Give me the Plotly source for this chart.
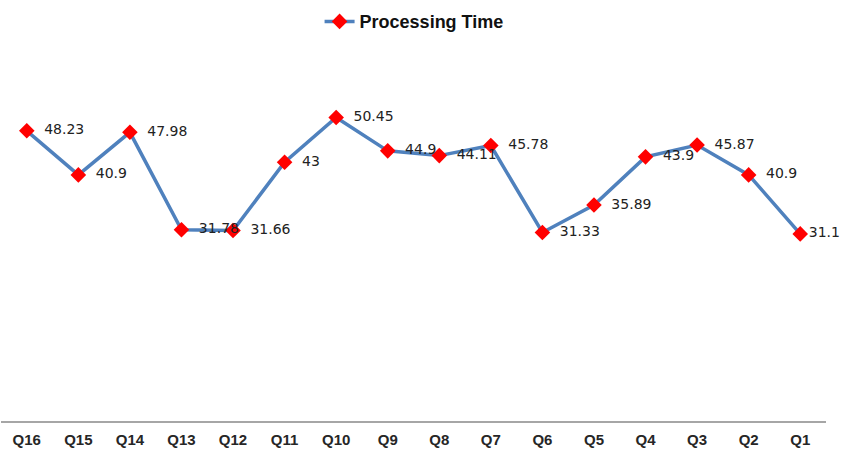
import plotly.graph_objects as go

quarters = ["Q16", "Q15", "Q14", "Q13", "Q12", "Q11", "Q10", "Q9",
            "Q8", "Q7", "Q6", "Q5", "Q4", "Q3", "Q2", "Q1"]
processing_time = [48.23, 40.9, 47.98, 31.78, 31.66, 43, 50.45, 44.9,
                   44.11, 45.78, 31.33, 35.89, 43.9, 45.87, 40.9, 31.1]

# Value labels sit a little right of each marker; the last one hugs the edge
labels = [f"  {v:g}" for v in processing_time]
labels[-1] = f"{processing_time[-1]:g}"

fig = go.Figure()
fig.add_trace(go.Scatter(
    x=quarters,
    y=processing_time,
    mode="lines+markers+text",
    name="<b>Processing Time</b>",
    line=dict(color="#4F81BD", width=3.5),
    marker=dict(symbol="diamond", size=12, color="#FF0000",
                line=dict(color="#FF0000", width=0)),
    text=labels,
    textposition="middle right",
    textfont=dict(family="DejaVu Sans, sans-serif", size=14, color="#222222"),
    cliponaxis=False,
))

fig.update_layout(
    width=841,
    height=460,
    margin=dict(l=1, r=15, t=60, b=39),
    paper_bgcolor="white",
    plot_bgcolor="white",
    showlegend=True,
    legend=dict(
        orientation="h",
        x=0.38, y=0.993, xref="container", yref="container",
        xanchor="left", yanchor="top",
        font=dict(family="Liberation Sans, Arial, sans-serif", size=18, color="#111111"),
    ),
    xaxis=dict(
        type="category",
        range=[-0.5, 15.5],
        showgrid=False,
        showline=True,
        linecolor="#A6A6A6",
        linewidth=1.5,
        ticks="",
        ticklabelstandoff=4,
        tickfont=dict(family="Liberation Sans, Arial, sans-serif", size=15, color="#262626", weight="bold"),
        fixedrange=True,
    ),
    yaxis=dict(
        range=[0, 60],
        showgrid=False,
        showticklabels=False,
        zeroline=False,
        showline=False,
        ticks="",
        fixedrange=True,
    ),
)

fig.write_html("out.html")
